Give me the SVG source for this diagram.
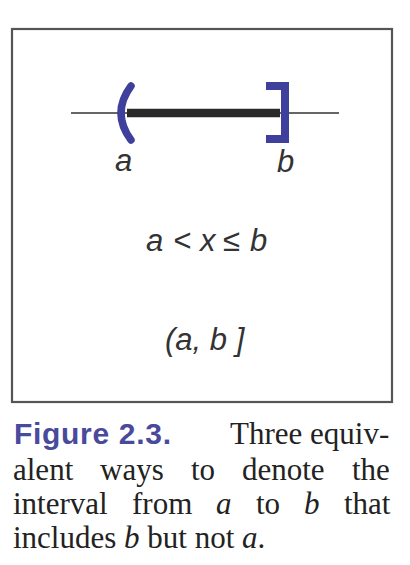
<svg xmlns="http://www.w3.org/2000/svg" width="410" height="565" viewBox="0 0 410 565">
<style>
.math{font-family:"Liberation Sans",Arial,sans-serif;font-style:italic;font-size:31px;fill:#333;}
.cap{font-family:"Liberation Serif","Times New Roman",serif;font-size:31px;fill:#222;}
.capi{font-style:italic;}
.fig{font-family:"Liberation Sans",Arial,sans-serif;font-weight:bold;font-size:30px;fill:#4a4a9c;}
.blue{stroke:#3f3f9c;fill:none;}
</style>
<rect width="410" height="565" fill="#fff"/>
<g id="frame">
<rect x="12" y="29" width="380" height="373" fill="none" stroke="#555" stroke-width="2.2"/>
</g>
<g id="numberline">
<line x1="71" y1="113" x2="339" y2="113" stroke="#333" stroke-width="1.3"/>
<line x1="127" y1="113" x2="280" y2="113" stroke="#2a2a2a" stroke-width="8.5"/>
</g>
<g id="open-paren">
<path class="blue" d="M131,86 Q111,113 131,140" stroke-width="7.5" stroke-linecap="round"/>
<text class="math" x="115" y="171">a</text>
</g>
<g id="closed-bracket">
<path class="blue" d="M266,86 H285 V139 H266" stroke-width="8" stroke-linejoin="miter"/>
<text class="math" x="277" y="172">b</text>
</g>
<g id="inequality">
<text class="math" x="146" y="251">a</text>
<text class="math" x="173" y="251">&lt;</text>
<text class="math" x="200" y="251">x</text>
<text class="math" x="223" y="251">≤</text>
<text class="math" x="250" y="251">b</text>
</g>
<g id="interval">
<text class="math" x="165" y="350">(a, b ]</text>
</g>
<g id="caption">
<text class="fig" x="14" y="444" textLength="157" lengthAdjust="spacing">Figure 2.3.</text>
<text class="cap" x="230" y="444">Three equiv-</text>
<text class="cap" y="480"><tspan x="13">alent</tspan><tspan x="100">ways</tspan><tspan x="191">to</tspan><tspan x="242">denote</tspan><tspan x="352">the</tspan></text>
<text class="cap" y="514"><tspan x="13">interval</tspan><tspan x="132">from</tspan><tspan x="216" class="capi">a</tspan><tspan x="256">to</tspan><tspan x="304" class="capi">b</tspan><tspan x="344">that</tspan></text>
<text class="cap" x="13" y="548">includes <tspan class="capi">b</tspan> but not <tspan class="capi">a</tspan>.</text>
</g>
</svg>
